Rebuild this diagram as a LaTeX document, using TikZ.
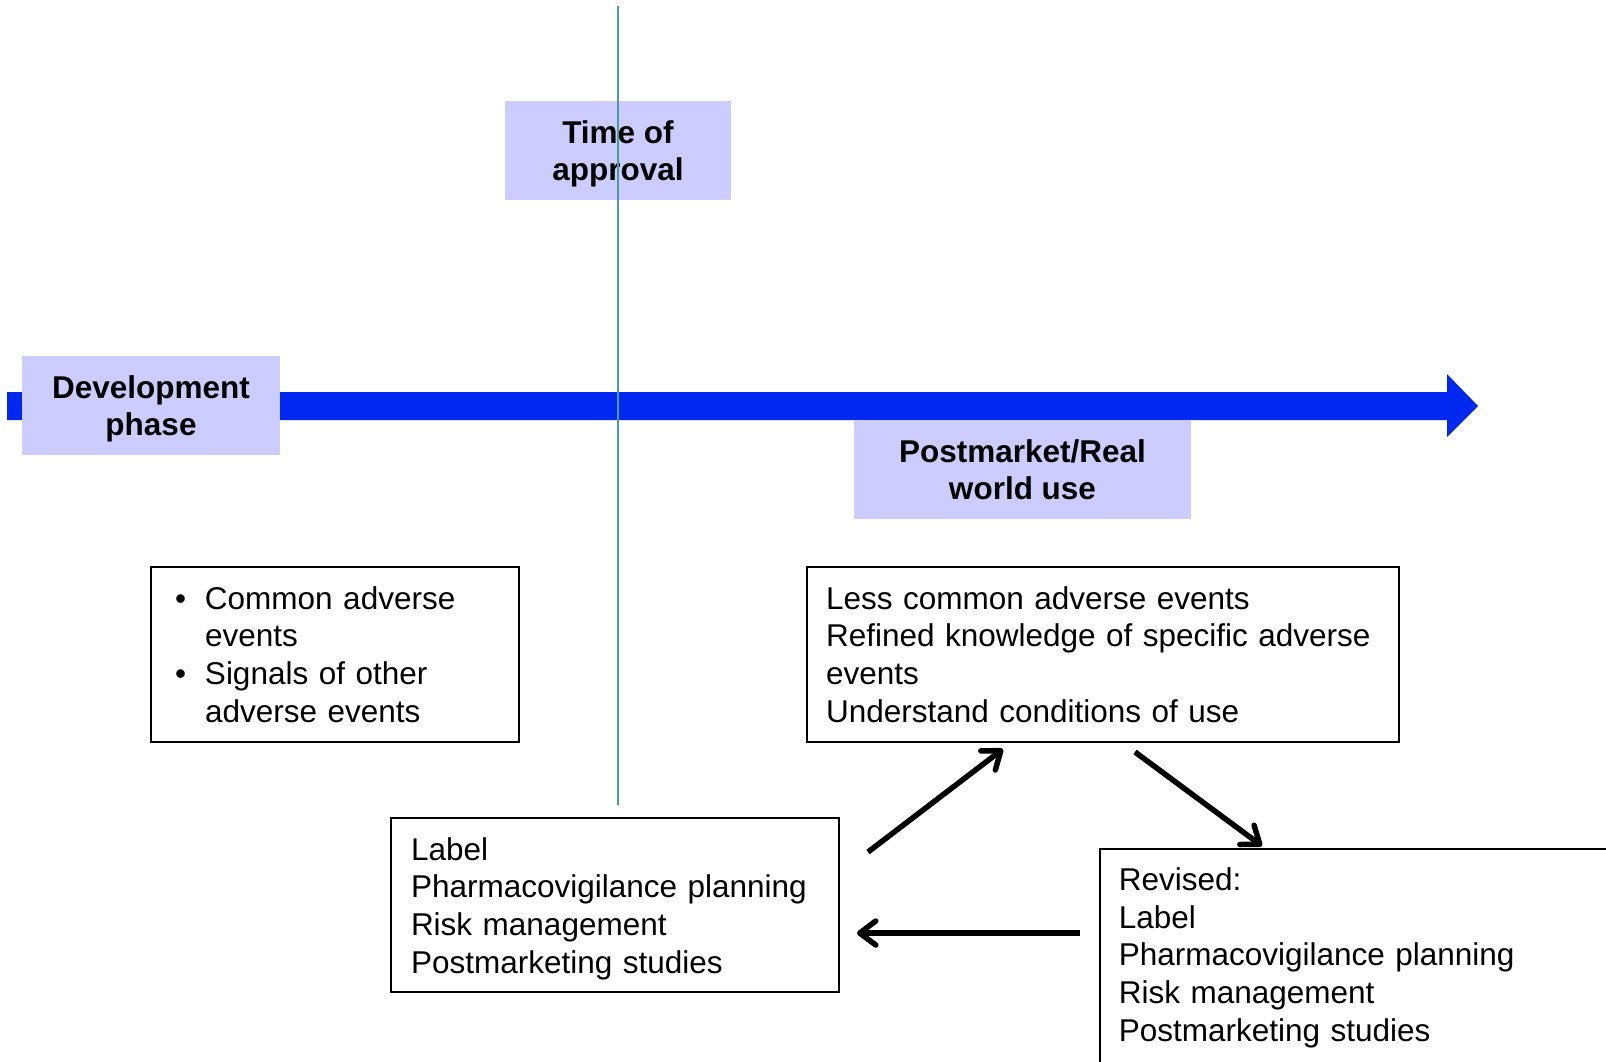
\documentclass[tikz,border=0pt]{standalone}
\usepackage{fontspec}
\setmainfont{Liberation Sans}
\usepackage{tikz}
\usetikzlibrary{
  arrows.meta,
  positioning,
  calc
}
\definecolor{phasecolor}{RGB}{204, 204, 255}
\definecolor{timelinecolor}{RGB}{0, 40, 240}
\definecolor{approvalline}{RGB}{72, 158, 158}
\definecolor{labelcolor}{RGB}{0, 0, 0}
\newcommand{\bulletmark}{\makebox[30pt][l]{\textbullet}}
\newcommand{\bulletindent}{\hspace*{30pt}}
\tikzset{
blocktext/.style={
  font=\fontsize{31.5}{37.8}\selectfont,
  text=labelcolor
},
phasebox/.style={
  fill=phasecolor,
  align=center,
  inner sep=0pt,
  text depth=0pt,
  minimum height=99pt,
  font=\fontsize{31.5}{36.5}\selectfont\bfseries
},
infobox/.style={
  draw=black,
  line width=1.6pt,
  align=left,
  inner xsep=19pt,
  blocktext
},
cyclearrow/.style={
  -{Straight Barb[length=16pt,width=24pt,line width=5.5pt,round]},
  line width=5.5pt,
  draw=black
}
}

\begin{document}
\begin{tikzpicture}[x=1pt,y=-1pt]
  \useasboundingbox (0,0) rectangle (1606,1061);

  % timeline
  \fill[timelinecolor] (7,392) -- (1447,392) -- (1447,374) -- (1478,406)
    -- (1447,437) -- (1447,420) -- (7,420) -- cycle;

  % phases
  \node[phasebox, minimum width=258pt] (dev) at (151,405.5) {Development\\phase};
  \node[phasebox, minimum width=226pt] (approval) at (618,150.5) {Time of\\approval};
  \node[phasebox, minimum width=337pt] (postmarket) at (1022.5,469.5) {Postmarket/Real\\world use};

  % approval line
  \coordinate (linetop) at (618,6);
  \coordinate (linebottom) at (618,805);
  \draw[approvalline, line width=2.6pt] (linetop) -- (linebottom);

  % knowledge boxes
  \node[infobox, inner xsep=24pt, text width=320pt, minimum height=175pt] (common) at (335,654.5)
    {\bulletmark Common adverse\\ \bulletindent events\\ \bulletmark Signals of other\\ \bulletindent adverse events};
  \node[infobox, text width=554pt, minimum height=175pt] (lesscommon) at (1103,654.5)
    {Less common adverse events\\Refined knowledge of specific adverse\\events\\Understand conditions of use};
  \node[infobox, inner xsep=20pt, text width=408pt, text height=30pt, minimum height=174pt] (label) at (615,905)
    {Label\\Pharmacovigilance planning\\Risk management\\Postmarketing studies};
  \node[infobox, anchor=north west, text width=560pt, minimum height=218pt] (revised) at (1099,848)
    {Revised:\\Label\\Pharmacovigilance planning\\Risk management\\Postmarketing studies};

  % cycle
  \coordinate (upstart) at (868,852);
  \coordinate (upend) at (1003,749);
  \coordinate (downstart) at (1135,752);
  \coordinate (downend) at (1262,846);
  \coordinate (backstart) at (1080,933);
  \coordinate (backend) at (857,933);
  \draw[cyclearrow] (upstart) -- (upend);
  \draw[cyclearrow] (downstart) -- (downend);
  \draw[cyclearrow] (backstart) -- (backend);
\end{tikzpicture}
\end{document}
